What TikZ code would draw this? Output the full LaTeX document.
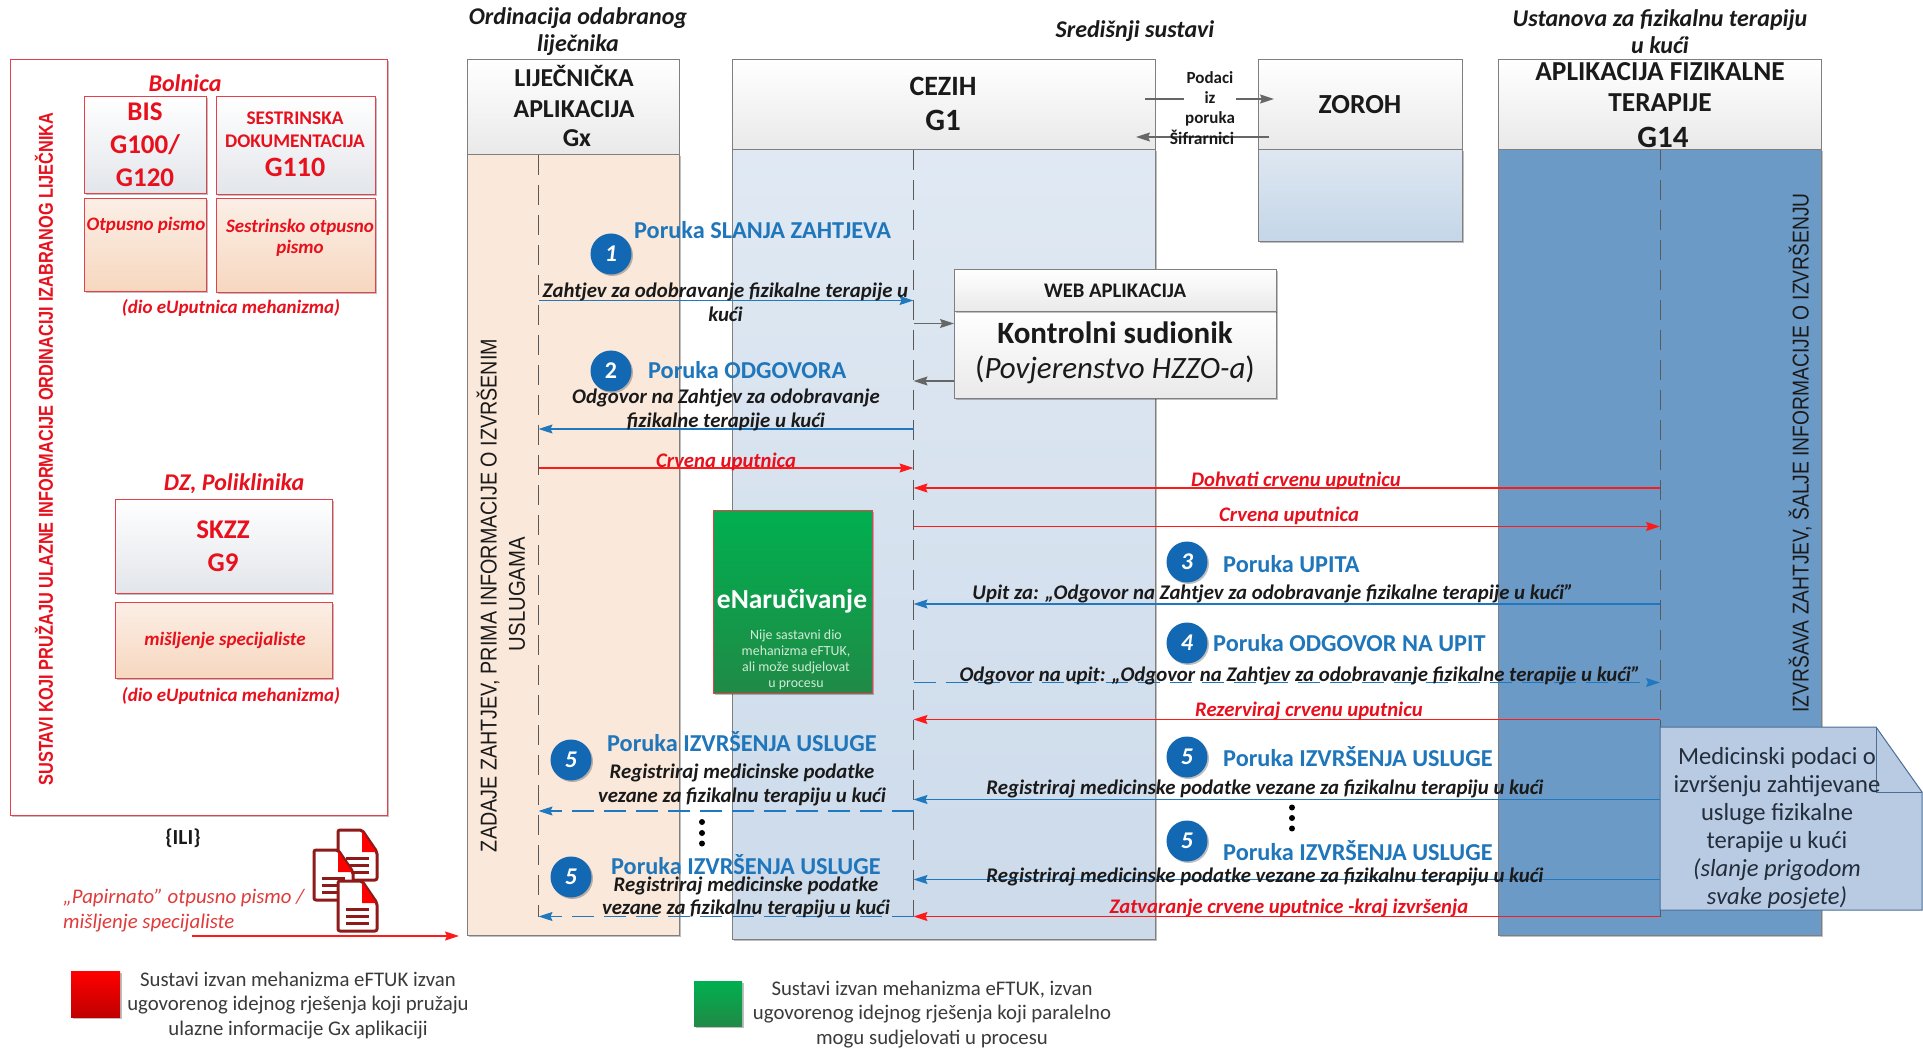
\documentclass[tikz,border=0pt]{standalone}
\usepackage{fontspec}
\usepackage{graphicx}
\setmainfont{Carlito}
\newfontfamily\arialf{Liberation Sans}
\usetikzlibrary{arrows.meta,shadows,calc}
\definecolor{rd}{HTML}{E8101C}
\definecolor{rdline}{HTML}{FF1A1A}
\definecolor{boxrd}{HTML}{E8404A}
\definecolor{bl}{HTML}{1F76BA}
\definecolor{blline}{HTML}{2078BE}
\definecolor{badgeb}{HTML}{1268B3}
\definecolor{graybd}{HTML}{7F7F7F}
\definecolor{hdbot}{HTML}{E9E9E9}
\definecolor{redhdbot}{HTML}{E2E5EA}
\definecolor{redbtop}{HTML}{FBEFE6}
\definecolor{redbbot}{HTML}{F7D7BF}
\definecolor{gxfill}{HTML}{FAE8DA}
\definecolor{cetopc}{HTML}{E0E9F3}
\definecolor{cebotc}{HTML}{CCDAEA}
\definecolor{zotopc}{HTML}{DEE7F1}
\definecolor{zobotc}{HTML}{C4D6E8}
\definecolor{g14fill}{HTML}{6C9AC6}
\definecolor{grntop}{HTML}{00B050}
\definecolor{grnbot}{HTML}{208A46}
\definecolor{redbot}{HTML}{C00000}
\definecolor{notefill}{HTML}{B8CBE2}
\definecolor{notebd}{HTML}{4A6E96}
\definecolor{notetx}{HTML}{232D3C}
\definecolor{txt}{HTML}{1A1A1A}
\definecolor{lgt}{HTML}{3A3A3A}
\definecolor{darkdoc}{HTML}{8E1A1A}
\definecolor{paprd}{HTML}{E03A3A}
\definecolor{smallg}{HTML}{D0EBDA}
\newcommand\fs[1]{\fontsize{#1}{#1}\selectfont}
\newcommand\fsl[2]{\fontsize{#1}{#2}\selectfont}
% name, style, x1, y1, x2, y2
\newcommand\bx[7][]{\node[#3,anchor=north west,inner sep=0pt,outer sep=0pt,minimum width={(#6-#4)*1pt},minimum height={(#7-#5)*1pt},#1] (#2) at (#4,#5) {};}
\tikzset{
 softshadow/.style={drop shadow={shadow xshift=1.5pt,shadow yshift=-1.5pt,opacity=.25,fill=black}},
 lanehead/.style={draw=graybd,line width=1pt,top color=white,bottom color=hdbot},
 lanebody/.style={draw=graybd,line width=1pt,softshadow},
 redhead/.style={draw=boxrd,line width=1pt,top color=white,bottom color=redhdbot,softshadow},
 redbody/.style={draw=boxrd,line width=1pt,top color=redbtop,bottom color=redbbot,softshadow},
 badge/.style={circle,fill=badgeb,draw=none,minimum size=41pt,inner sep=0pt,text=white,font=\bfseries\itshape\fs{24},softshadow},
 lifeline/.style={draw=black!65,line width=1pt,dash pattern=on 20pt off 10pt},
 msgb/.style={draw=blline,line width=1.2pt,-{Stealth[length=14pt,width=9pt,inset=2pt]}},
 msgbd/.style={msgb,dash pattern=on 22pt off 10pt},
 msgr/.style={draw=rdline,line width=1.3pt,-{Stealth[length=14pt,width=9pt,inset=2pt]}},
 msgg/.style={draw=black!60,line width=1.2pt,-{Stealth[length=14pt,width=9pt,inset=2pt]}},
 poruka/.style={text=bl,font=\bfseries\fs{24.3},inner sep=0pt},
 blk/.style={text=txt,font=\bfseries\itshape\fsl{20.8}{23.5},align=center,inner sep=0pt},
 redlbl/.style={text=rd,font=\bfseries\itshape\fs{20.7},inner sep=0pt},
 redit/.style={text=rd,font=\bfseries\itshape\fsl{19}{21.5},align=center,inner sep=0pt},
 title/.style={text=txt,font=\bfseries\itshape\fsl{24}{27},align=center,inner sep=0pt},
 headtxt/.style={text=txt,font=\bfseries\fsl{25.8}{30.5},align=center,inner sep=0pt},
 legendtxt/.style={text=lgt,font=\fsl{20.8}{24.5},align=center,inner sep=0pt},
 docpic/.pic={
  \draw[fill=white,draw=darkdoc,line width=3pt,line join=round,rounded corners=2pt] (0,0) -- (24,0) -- (39,22) -- (39,50) -- (0,50) -- cycle;
  \fill[red] (24,1) -- (38,22) -- (24,22) -- cycle;
  \draw[darkdoc,line width=3pt] (8,28) -- (31,28) (8,35) -- (31,35) (8,42) -- (31,42);
 }
}
\begin{document}
\begin{tikzpicture}[x=1pt,y=-1pt]
\useasboundingbox (0,0) rectangle (1923,1048);
\fill[white] (0,0) rectangle (1923,1048);

% ---- left red frame
\bx{hospframe}{draw=boxrd,line width=1pt,fill=white,softshadow}{10}{60}{387}{815}
\node[text=rd,font=\bfseries\itshape\fs{24},inner sep=0pt] (bolnica) at (185,83) {Bolnica};
\bx{bis}{redhead}{84}{97}{206}{194}
\node[text=rd,font=\bfseries\fsl{27}{33},align=center,inner sep=0pt] (bistxt) at (145,145) {BIS\\G100/\\G120};
\bx{ses}{redhead}{216}{97}{375}{195}
\node[text=rd,font=\bfseries\fsl{19.3}{22.6},align=center,inner sep=0pt] (sestxt) at (295,130) {SESTRINSKA\\DOKUMENTACIJA};
\node[text=rd,font=\bfseries\fs{28},inner sep=0pt] (g110) at (295,167) {G110};
\bx{otp}{redbody}{84}{199}{206}{292}
\node[redit,anchor=center] (otptxt) at (146,225.5) {Otpusno pismo};
\bx{sot}{redbody}{216}{199}{375}{293}
\node[redit] (sottxt) at (300,238) {Sestrinsko otpusno\\pismo};
\node[redit] (dio1) at (231,308) {(dio eUputnica mehanizma)};
\node[text=rd,font=\bfseries\itshape\fs{24},inner sep=0pt] (dz) at (234,484) {DZ, Poliklinika};
\bx{skzz}{redhead}{115}{499}{332}{593}
\node[text=rd,font=\bfseries\fsl{27}{33},align=center,inner sep=0pt] (skzztxt) at (223,546.5) {SKZZ\\G9};
\bx{misl}{redbody}{115}{602}{332}{678}
\node[redit] (misltxt) at (225,640) {mišljenje specijaliste};
\node[redit] (dio2) at (231,696) {(dio eUputnica mehanizma)};
\node[rotate=90,text=rd,font=\arialf\bfseries,inner sep=0pt] (sustavi) at (44,449) {\resizebox{673pt}{18pt}{SUSTAVI KOJI PRUŽAJU ULAZNE INFORMACIJE ORDINACIJI IZABRANOG LIJEČNIKA}};
\node[text=txt,font=\bfseries\fs{21.5},inner sep=0pt] (ili) at (183,838) {\{ILI\}};

% ---- lanes
\bx{gxbody}{lanebody,fill=gxfill}{467}{155}{679}{935}
\bx{gxhead}{lanehead}{467}{60}{679}{155}
\bx{cebody}{lanebody,top color=cetopc,bottom color=cebotc}{732}{150}{1155}{939}
\bx{cehead}{lanehead}{732}{60}{1155}{150}
\bx{zobody}{lanebody,top color=zotopc,bottom color=zobotc}{1258}{150}{1462}{242}
\bx{zohead}{lanehead}{1258}{60}{1462}{150}
\bx{g14body}{lanebody,fill=g14fill}{1498}{150}{1821}{935}
\bx{g14head}{lanehead}{1498}{60}{1821}{150}

\node[title] (t1) at (578,31.5) {Ordinacija odabranog\\liječnika};
\node[title] (t2) at (1135,31) {Središnji sustavi};
\node[title] (t3) at (1660,31.5) {Ustanova za fizikalnu terapiju\\u kući};

\node[headtxt] (gxt) at (574,91.5) {LIJEČNIČKA\\APLIKACIJA};
\node[headtxt] (gxg) at (577,138) {Gx};
\node[headtxt,font=\bfseries\fs{28}] (cet) at (943,86.5) {CEZIH};
\node[headtxt,font=\bfseries\fs{31}] (ceg) at (943,120) {G1};
\node[headtxt,font=\bfseries\fs{27.6}] (zot) at (1360,105) {ZOROH};
\node[headtxt,font=\bfseries\fsl{27.4}{31}] (g14t) at (1660,87.5) {APLIKACIJA FIZIKALNE\\TERAPIJE};
\node[headtxt,font=\bfseries\fs{31}] (g14g) at (1663,137) {G14};

\node[rotate=90,text=txt,font=\arialf,inner sep=0pt] (zadaje) at (488,595.5) {\resizebox{513pt}{20pt}{ZADAJE ZAHTJEV, PRIMA INFORMACIJE O IZVRŠENIM}};
\node[rotate=90,text=txt,font=\arialf,inner sep=0pt] (uslugama) at (517,594) {\resizebox{114pt}{16pt}{USLUGAMA}};
\node[rotate=90,text=txt,font=\arialf,inner sep=0pt] (izvrsava) at (1800,453) {\resizebox{519pt}{20pt}{IZVRŠAVA ZAHTJEV, ŠALJE INFORMACIJE O IZVRŠENJU}};

% ---- lifelines
\coordinate (gxtop) at (538.5,155); \coordinate (gxbot) at (538.5,917);
\coordinate (cetop) at (913.5,150); \coordinate (cebot) at (913.5,917);
\coordinate (g14top) at (1660,150); \coordinate (g14bot) at (1660,917);
\draw[lifeline] (gxtop) -- (gxbot);
\draw[lifeline] (cetop) -- (cebot);
\draw[lifeline] (g14top) -- (g14bot);

% ---- web app, eNarucivanje
\bx{webbody}{draw=graybd,line width=1pt,top color=white,bottom color=hdbot,softshadow}{954}{312}{1276}{399}
\bx{webhead}{lanehead,softshadow}{954}{270}{1276}{312}
\node[text=txt,font=\bfseries\fs{20.7},inner sep=0pt] (webt) at (1115,291) {WEB APLIKACIJA};
\node[text=txt,font=\bfseries\fs{31},inner sep=0pt] (kontrol) at (1115,333) {Kontrolni sudionik};
\node[text=txt,font=\fs{31},inner sep=0pt] (povj) at (1115,369.5) {(\textit{Povjerenstvo HZZO-a})};
\bx{enar}{draw=boxrd,line width=1pt,top color=grntop,bottom color=grnbot,softshadow}{713}{510}{872}{693}
\node[text=white,font=\bfseries\fs{27.5},inner sep=0pt] (enart) at (792,601) {eNaručivanje};
\node[text=smallg,font=\fsl{13.9}{16},align=center,inner sep=0pt] (enars) at (796,660) {Nije sastavni dio\\mehanizma eFTUK,\\ali može sudjelovat\\u procesu};

% ---- rows
\foreach \n/\y in {m1/300.5,m2/429,m3/468,m4/488,m5/526.5,m6/604,m7/682.5,m8/719.5,m9/799.5,m10/811,m11/879.5,m12/916.5}{\coordinate (\n) at (0,\y);}

% ---- connectors
\draw[msgb] (gxtop |- m1) -- (cetop |- m1);
\draw[msgb] (cetop |- m2) -- (gxtop |- m2);
\draw[msgr] (gxtop |- m3) -- (cetop |- m3);
\draw[msgr] (g14top |- m4) -- (cetop |- m4);
\draw[msgr] (cetop |- m5) -- (g14top |- m5);
\draw[msgb] (g14top |- m6) -- (cetop |- m6);
\draw[msgbd] (cetop |- m7) -- (g14top |- m7);
\draw[msgr] (g14top |- m8) -- (cetop |- m8);
\draw[msgb] (g14top |- m9) -- (cetop |- m9);
\draw[msgbd] (cetop |- m10) -- (gxtop |- m10);
\draw[msgb] (g14top |- m11) -- (cetop |- m11);
\draw[msgbd] (cetop |- m12) -- (gxtop |- m12);
\draw[msgr] (g14top |- m12) -- (cetop |- m12);
\coordinate (wa) at (0,323.5); \coordinate (wb) at (0,381);
\draw[msgg] (cetop |- wa) -- (webbody.west |- wa);
\draw[msgg] (webbody.west |- wb) -- (cetop |- wb);
\coordinate (za) at (0,99); \coordinate (zb) at (0,137);
\coordinate (ceout) at (1145,0); \coordinate (ceinto) at (1136,0);
\coordinate (zoin) at (1274,0); \coordinate (zoout) at (1269,0);
\draw[msgg] (ceout |- za) -- (zoin |- za);
\draw[msgg] (zoout |- zb) -- (ceinto |- zb);
\node[fill=white,text=txt,font=\bfseries\fsl{17}{20.3},align=center,inner sep=1pt] (podaci) at (1210,99) {Podaci\\iz\\poruka};
\node[text=txt,font=\bfseries\fs{17.5},inner sep=0pt] (sif) at (1202,137) {Šifrarnici};

% ---- message labels
\node[badge] (c1) at (611,254) {1};
\node[poruka,anchor=west] (p1) at (634,230) {Poruka SLANJA ZAHTJEVA};
\node[blk] (l1) at (725.5,302.5) {Zahtjev za odobravanje fizikalne terapije u\\kući};
\node[badge,font=\bfseries\fs{24}] (c2) at (611,371) {2};
\node[poruka,anchor=west] (p2) at (648,370.5) {Poruka ODGOVORA};
\node[blk] (l2) at (726,410) {Odgovor na Zahtjev za odobravanje\\fizikalne terapije u kući};
\node[redlbl] (l3) at (726,461.5) {Crvena uputnica};
\node[redlbl] (l4) at (1296,481) {Dohvati crvenu uputnicu};
\node[redlbl] (l5) at (1289,516) {Crvena uputnica};
\node[badge] (c3) at (1187,562) {3};
\node[poruka,anchor=west] (p3) at (1223,564) {Poruka UPITA};
\node[blk] (l6) at (1273,594) {Upit za: „Odgovor na Zahtjev za odobravanje fizikalne terapije u kući”};
\node[badge] (c4) at (1187,643) {4};
\node[poruka,anchor=west] (p4) at (1213,643) {Poruka ODGOVOR NA UPIT};
\node[blk] (l7) at (1300,676) {Odgovor na upit: „Odgovor na Zahtjev za odobravanje fizikalne terapije u kući”};
\node[redlbl] (l8) at (1309,711) {Rezerviraj crvenu uputnicu};
\node[badge] (c5) at (1187,757) {5};
\node[poruka,anchor=west] (p5) at (1223,757) {Poruka IZVRŠENJA USLUGE};
\node[blk] (l9) at (1265,789) {Registriraj medicinske podatke vezane za fizikalnu terapiju u kući};
\node[badge] (c6) at (1187,841) {5};
\node[poruka,anchor=west] (p6) at (1223,851) {Poruka IZVRŠENJA USLUGE};
\node[blk] (l10) at (1265,877) {Registriraj medicinske podatke vezane za fizikalnu terapiju u kući};
\node[redlbl] (l11) at (1289,908) {Zatvaranje crvene uputnice -kraj izvršenja};
\node[badge] (c7) at (571,760) {5};
\node[poruka,anchor=west] (p7) at (607,741.5) {Poruka IZVRŠENJA USLUGE};
\node[blk] (l12) at (742,785) {Registriraj medicinske podatke\\vezane za fizikalnu terapiju u kući};
\node[badge] (c8) at (571,877) {5};
\node[poruka,anchor=west] (p8) at (611,865) {Poruka IZVRŠENJA USLUGE};
\node[blk] (l13) at (746,897.5) {Registriraj medicinske podatke\\vezane za fizikalnu terapiju u kući};
\foreach \y in {807.5,818,828.5}{\fill[black] (1292,\y) circle (3pt);}
\foreach \y in {822,833,843.5}{\fill[black] (702,\y) circle (3pt);}

% ---- note
\coordinate (nA) at (1660,727);\coordinate (nB) at (1876,727);\coordinate (nC) at (1922,792);\coordinate (nD) at (1922,910);\coordinate (nE) at (1660,910);\coordinate (nF) at (1876,792);
\draw[fill=notefill,draw=notebd,line width=1pt] (nA) -- (nB) -- (nC) -- (nD) -- (nE) -- cycle;
\draw[draw=notebd,line width=1pt] (nB) -- (nF) -- (nC);
\node[text=notetx,font=\fsl{24.6}{28},align=center,inner sep=0pt] (notet) at (1777,828) {Medicinski podaci o\\izvršenju zahtijevane\\usluge fizikalne\\terapije u kući\\\textit{(slanje prigodom}\\\textit{svake posjete)}};

% ---- paper input
\pic at (338,830) {docpic};
\pic at (314,850) {docpic};
\pic at (338,881) {docpic};
\node[text=paprd,font=\itshape\fsl{20.8}{24.5},align=left,inner sep=0pt,anchor=north west] (pap) at (63,889) {„Papirnato” otpusno pismo /\\mišljenje specijaliste};
\coordinate (papin) at (192,936); \coordinate (papout) at (459,936);
\draw[msgr] (papin) -- (papout);

% ---- legend
\bx{lgr}{top color=red,bottom color=redbot,draw=none,softshadow}{71}{971}{120}{1017}
\node[legendtxt] (lgrt) at (298,1005.5) {Sustavi izvan mehanizma eFTUK izvan\\ugovorenog idejnog rješenja koji pružaju\\ulazne informacije Gx aplikaciji};
\bx{lgg}{top color=grntop,bottom color=grnbot,draw=none,softshadow}{694}{981}{742}{1026}
\node[legendtxt] (lggt) at (932,1014.5) {Sustavi izvan mehanizma eFTUK, izvan\\ugovorenog idejnog rješenja koji paralelno\\mogu sudjelovati u procesu};
\end{tikzpicture}
\end{document}
